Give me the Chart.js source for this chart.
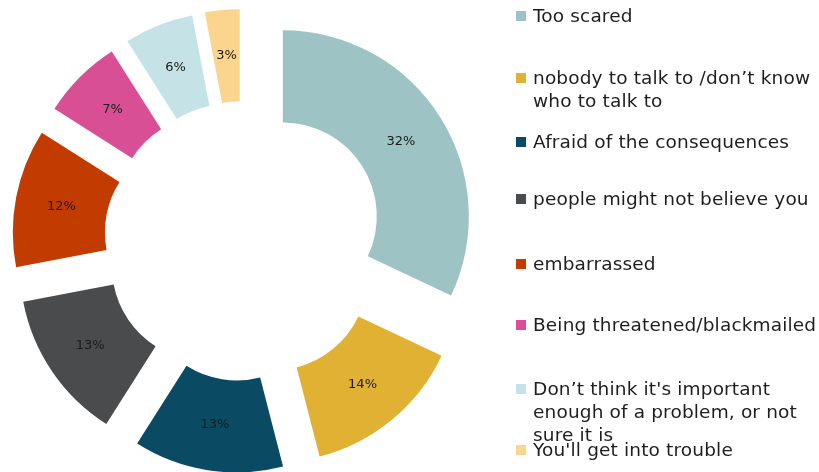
<!DOCTYPE html>
<html>
<head>
<meta charset="utf-8">
<script src="https://cdn.jsdelivr.net/npm/chart.js@4"></script>
<style>
    body { margin: 0; background: #fff; }
    #wrap { position: relative; width: 819px; height: 472px; }
    #legend { position: absolute; left: 0; top: 0; font-family: "DejaVu Sans", Verdana, sans-serif; font-size: 18.5px; letter-spacing: 0.15px; color: #1e1e1e; }
    .item { position: absolute; left: 516px; white-space: nowrap; line-height: 23px; }
    .box { position: absolute; left: 0; top: 7px; width: 10px; height: 10px; }
    .txt { position: absolute; left: 17px; top: 0; }
</style>
</head>
<body>
<div id="wrap">
    <canvas id="reasonsChart" width="819" height="472"></canvas>
    <div id="legend"></div>
</div>
<script>
// Reasons for not telling anyone (percent of answers)
const labels = [
    ['Too scared'],
    ['nobody to talk to /don\u2019t know', 'who to talk to'],
    ['Afraid of the consequences'],
    ['people might not believe you'],
    ['embarrassed'],
    ['Being threatened/blackmailed'],
    ['Don\u2019t think it\'s important', 'enough of a problem, or not', 'sure it is'],
    ['You\'ll get into trouble']
];
const percentages = [32, 14, 13, 13, 12, 7, 6, 3];
const colors = ['#9dc3c4', '#e1b133', '#0b4a63', '#4a4b4d', '#c23b00', '#d94f96', '#c5e3e6', '#fbd48e'];

// legend rows sit on a fixed grid, like the original slide
const legendTops = [4, 66, 130, 187, 252, 313, 377, 438];

// how far every slice is pulled out from the centre (px)
const explode = 46;

// chart.js' own arc offset also shrinks/grows the slices, so shift the
// context ourselves and let each ArcElement draw itself
const explodedArcs = {
    id: 'explodedArcs',
    beforeDatasetDraw(chart, args) {
        const ctx = chart.ctx;
        args.meta.data.forEach(arc => {
            const mid = (arc.startAngle + arc.endAngle) / 2;
            ctx.save();
            ctx.translate(Math.cos(mid) * explode, Math.sin(mid) * explode);
            arc.draw(ctx);
            ctx.restore();
        });
        return false;
    }
};

// Draw the percentage text on each segment
const sliceLabels = {
    id: 'sliceLabels',
    afterDatasetsDraw(chart) {
        const ctx = chart.ctx;
        const meta = chart.getDatasetMeta(0);
        ctx.save();
        ctx.font = '13px "DejaVu Sans", Verdana, sans-serif';
        ctx.fillStyle = '#1a1a1a';
        ctx.textAlign = 'center';
        ctx.textBaseline = 'middle';
        meta.data.forEach((arc, i) => {
            const mid = (arc.startAngle + arc.endAngle) / 2;
            const r = (arc.innerRadius + arc.outerRadius) / 2 + explode;
            ctx.fillText(percentages[i] + '%', arc.x + Math.cos(mid) * r, arc.y + Math.sin(mid) * r);
        });
        ctx.restore();
    }
};

const ctx = document.getElementById('reasonsChart').getContext('2d');
const reasonsChart = new Chart(ctx, {
    type: 'doughnut',
    data: {
        labels: labels.map(l => l.join(' ')),
        datasets: [{
            data: percentages,
            backgroundColor: colors,
            borderWidth: 0,
            offset: 0,
            hoverOffset: 0
        }]
    },
    options: {
        responsive: false,
        animation: false,
        radius: 186,
        cutout: '50.5%',
        layout: {
            padding: { left: 0, right: 331, top: 10, bottom: 0 }
        },
        plugins: {
            legend: { display: false },
            tooltip: { enabled: false }
        }
    },
    plugins: [explodedArcs, sliceLabels]
});

// HTML legend built from the same arrays
const legendEl = document.getElementById('legend');
labels.forEach((lines, i) => {
    const item = document.createElement('div');
    item.className = 'item';
    item.style.top = legendTops[i] + 'px';
    const box = document.createElement('div');
    box.className = 'box';
    box.style.background = colors[i];
    const txt = document.createElement('div');
    txt.className = 'txt';
    txt.innerHTML = lines.join('<br>');
    item.appendChild(box);
    item.appendChild(txt);
    legendEl.appendChild(item);
});
</script>
</body>
</html>
